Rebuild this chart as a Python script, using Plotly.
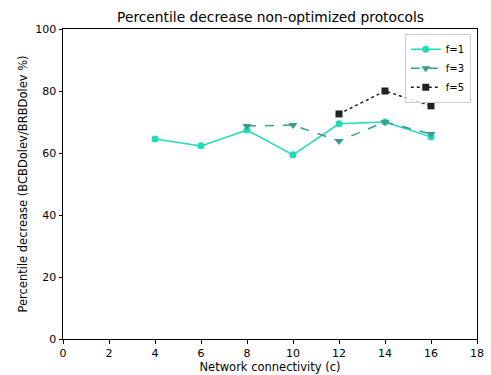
import plotly.graph_objects as go

x1 = [4, 6, 8, 10, 12, 14, 16]
y1 = [64.5, 62.3, 67.4, 59.4, 69.4, 70.0, 65.2]
x3 = [8, 10, 12, 14, 16]
y3 = [68.7, 69.0, 63.9, 70.0, 66.1]
x5 = [12, 14, 16]
y5 = [72.6, 80.0, 75.2]

fig = go.Figure()
fig.add_trace(go.Scatter(x=x1, y=y1, mode="lines+markers", name="f=1",
                         line=dict(color="#1fdbb8", width=1.5),
                         marker=dict(symbol="circle", size=7, color="#1fdbb8")))
fig.add_trace(go.Scatter(x=x3, y=y3, mode="lines+markers", name="f=3",
                         line=dict(color="#3a9c8c", width=1.5, dash="dash"),
                         marker=dict(symbol="triangle-down", size=8, color="#3a9c8c")))
fig.add_trace(go.Scatter(x=x5, y=y5, mode="lines+markers", name="f=5",
                         line=dict(color="#222222", width=1.5, dash="dot"),
                         marker=dict(symbol="square", size=7, color="#222222")))

axis_common = dict(showgrid=False, zeroline=False, showline=True, linecolor="black",
                   linewidth=1, mirror=True, ticks="outside", ticklen=3.5,
                   tickcolor="black", tickfont=dict(size=11, color="black"),
                   automargin=False)
fig.update_xaxes(range=[0, 18], tickvals=list(range(0, 19, 2)),
                 title=dict(text="Network connectivity (c)", font=dict(size=11.5, color="black"), standoff=2),
                 **axis_common)
fig.update_yaxes(range=[0, 100], tickvals=list(range(0, 101, 20)),
                 title=dict(text="Percentile decrease (BCBDolev/BRBDolev %)", font=dict(size=11.5, color="black"), standoff=5),
                 **axis_common)

fig.update_layout(
    width=491, height=375,
    margin=dict(l=63, r=14, t=29, b=36),
    paper_bgcolor="white", plot_bgcolor="white",
    font=dict(family="DejaVu Sans", color="black"),
    title=dict(text="Percentile decrease non-optimized protocols", x=0.551, xanchor="center",
               y=0.955, yanchor="middle", font=dict(size=13.8, color="black"), automargin=False),
    legend=dict(x=0.985, y=0.985, xanchor="right", yanchor="top",
                bordercolor="#cccccc", borderwidth=1, bgcolor="rgba(255,255,255,0.8)",
                font=dict(size=10), tracegroupgap=0, itemwidth=30),
    showlegend=True,
)

fig.write_html("out.html")
